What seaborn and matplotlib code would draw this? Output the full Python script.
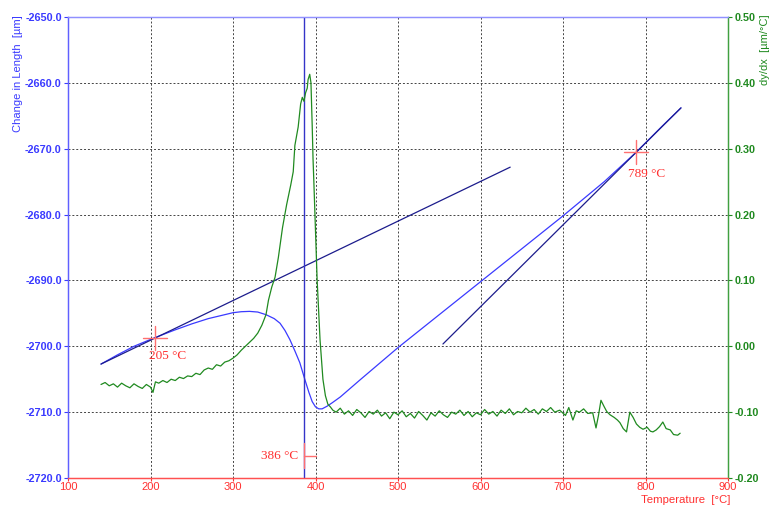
import numpy as np
import pandas as pd
import matplotlib
matplotlib.use('Agg')
import matplotlib.pyplot as plt
import seaborn as sns

# curva de dilatacion (Change in Length)
temp_dl = [140, 160, 180, 205, 230, 250, 270, 290, 300, 310, 320, 330, 340, 350, 357,
           363, 369, 375, 381, 387, 392, 396, 400, 404, 408, 414, 420, 430, 454, 500,
           550, 600, 650, 700, 750, 789, 820, 843]
dl = [-2702.7, -2701.3, -2700.0, -2698.7, -2697.5, -2696.6, -2695.8, -2695.2, -2694.9,
      -2694.75, -2694.7, -2694.8, -2695.2, -2695.8, -2696.5, -2697.6, -2699.0, -2700.7,
      -2702.5, -2705.0, -2707.0, -2708.4, -2709.2, -2709.5, -2709.5, -2709.1, -2708.6,
      -2707.7, -2705.1, -2700.2, -2695.2, -2690.2, -2685.2, -2680.2, -2675.0, -2670.5,
      -2666.6, -2663.8]

# derivada dy/dx
temp_der = [140, 145, 150, 155, 160, 165, 170, 175, 180, 185, 190, 195, 200, 203, 206,
            210, 215, 220, 225, 230, 235, 240, 245, 250, 255, 260, 265, 270, 275, 280,
            285, 290, 295, 300, 305, 310, 315, 320, 325, 330, 335, 340, 343, 347, 351,
            355, 360, 365, 370, 373, 375, 379, 382, 384, 386, 388, 390, 391, 393, 394.5,
            396, 397, 398, 400, 402, 405.5, 409, 412, 415, 418, 421,
            425, 430, 435, 440, 445, 450, 455, 460, 465, 470, 475, 480, 485, 490, 495,
            500, 505, 510, 515, 520, 525, 530, 535, 540, 545, 550, 555, 560, 565, 570,
            575, 580, 585, 590, 595, 600, 605, 610, 615, 620, 625, 630, 635, 640, 645,
            650, 655, 660, 665, 670, 675, 680, 685, 690, 696, 703, 707, 712, 716, 720,
            725, 730, 736, 740, 743, 746, 750, 753, 757, 762, 766, 769, 773, 777, 781,
            785, 789, 793, 797, 802, 806, 809, 813, 817, 821, 825, 830, 834, 839, 842]
deriv = [-0.058, -0.055, -0.060, -0.057, -0.062, -0.056, -0.060, -0.063, -0.057, -0.061,
         -0.064, -0.058, -0.062, -0.070, -0.054, -0.056, -0.052, -0.055, -0.050, -0.052,
         -0.047, -0.049, -0.045, -0.046, -0.041, -0.043, -0.036, -0.033, -0.035, -0.028,
         -0.030, -0.024, -0.022, -0.018, -0.013, -0.006, 0.000, 0.006, 0.012, 0.020,
         0.032, 0.048, 0.070, 0.090, 0.105, 0.135, 0.180, 0.215, 0.245, 0.265, 0.305,
         0.333, 0.368, 0.378, 0.372, 0.385, 0.392, 0.405, 0.413, 0.400, 0.335, 0.285,
         0.250, 0.175, 0.100, 0.010, -0.050, -0.075, -0.088, -0.092, -0.097,
         -0.100, -0.094, -0.103, -0.098, -0.105, -0.096, -0.101, -0.108, -0.099, -0.103,
         -0.097, -0.106, -0.101, -0.110, -0.100, -0.104, -0.098, -0.107, -0.102, -0.109,
         -0.099, -0.105, -0.112, -0.101, -0.106, -0.098, -0.104, -0.108, -0.100, -0.103,
         -0.097, -0.105, -0.099, -0.107, -0.101, -0.104, -0.096, -0.103, -0.099, -0.106,
         -0.097, -0.102, -0.095, -0.104, -0.099, -0.101, -0.094, -0.100, -0.096, -0.103,
         -0.095, -0.099, -0.093, -0.100, -0.097, -0.105, -0.093, -0.112, -0.098, -0.100,
         -0.095, -0.102, -0.101, -0.124, -0.105, -0.082, -0.092, -0.099, -0.104, -0.108,
         -0.112, -0.116, -0.125, -0.130, -0.100, -0.108, -0.118, -0.123, -0.126, -0.123,
         -0.129, -0.130, -0.127, -0.122, -0.115, -0.125, -0.127, -0.134, -0.135, -0.132]

# tangentes
tan1_t = [140, 636]
tan1_v = [-2702.7, -2672.8]
tan2_t = [554.5, 843]
tan2_v = [-2699.65, -2663.8]

# puntos marcados
onset_t, onset_v = 205, -2698.7
peak_t = 386
end_t, end_v = 789, -2670.5

x_ticks = [100, 200, 300, 400, 500, 600, 700, 800, 900]
y_ticks = [-2720, -2710, -2700, -2690, -2680, -2670, -2660, -2650]
y2_ticks = [-0.2, -0.1, 0.0, 0.1, 0.2, 0.3, 0.4, 0.5]

sns.set_style('white')
plt.rcParams['font.family'] = ['Liberation Sans', 'DejaVu Sans']

azul = '#3a3aff'
azul_osc = '#1c1c8c'
verde = '#208a20'
rojo = '#ff3030'

fig = plt.figure(figsize=(7.72, 5.05), dpi=100)
ax = fig.add_axes([68/772, 27/505, 660/772, 461/505])
ax2 = ax.twinx()

df_dl = pd.DataFrame({'T': temp_dl, 'v': dl})
df_der = pd.DataFrame({'T': temp_der, 'd': deriv})

sns.lineplot(data=df_der, x='T', y='d', ax=ax2, color=verde, linewidth=0.9, sort=False)
sns.lineplot(data=df_dl, x='T', y='v', ax=ax, color=azul, linewidth=0.9, sort=False)
sns.lineplot(x=tan1_t, y=tan1_v, ax=ax, color=azul_osc, linewidth=0.9)
sns.lineplot(x=tan2_t, y=tan2_v, ax=ax, color=azul_osc, linewidth=0.9)
ax.axvline(peak_t, color='#3434c8', linewidth=1.0, zorder=3)

# cruces rojas
dx, dy = 14.5, 1.8
cruz = '#ff7070'
for t, v in [(onset_t, onset_v), (end_t, end_v)]:
    ax.plot([t - dx, t + dx], [v, v], color=cruz, linewidth=1.0, zorder=5)
    ax.plot([t, t], [v - dy, v + dy], color=cruz, linewidth=1.0, zorder=5)
ax.plot([peak_t, peak_t], [-2714.7, -2718.5], color=cruz, linewidth=1.0, zorder=5)
ax.plot([peak_t, peak_t + 14], [-2716.7, -2716.7], color=cruz, linewidth=1.0, zorder=5)

serif = ['Liberation Serif', 'DejaVu Serif']
ax.text(onset_t - 7, onset_v - 1.8, f'{onset_t} °C', color=rojo, fontsize=9.5,
        family=serif, ha='left', va='top', zorder=6)
ax.text(peak_t - 7, -2716.7, f'{peak_t} °C', color=rojo, fontsize=9.5,
        family=serif, ha='right', va='center', zorder=6)
ax.text(end_t - 10, end_v - 2.4, f'{end_t} °C', color=rojo, fontsize=9.5,
        family=serif, ha='left', va='top', zorder=6)

ax.set_xlim(100, 900)
ax.set_ylim(-2720, -2650)
ax2.set_ylim(-0.2, 0.5)
ax.set_xticks(x_ticks)
ax.set_yticks(y_ticks)
ax2.set_yticks(y2_ticks)
ax.set_yticklabels([f'{v:.1f}' for v in y_ticks])
ax2.set_yticklabels([f'{v:.2f}' for v in y2_ticks])
ax.set_xticklabels([str(v) for v in x_ticks])
ax.set_xlabel('')
ax.set_ylabel('')
ax2.set_ylabel('')

ax.grid(True, color='#444444', linestyle=(0, (2, 2)), linewidth=0.7)

ax.tick_params(axis='y', colors=azul, labelsize=7.8, length=3, width=0.8, direction='out', left=True, pad=1.5)
ax.tick_params(axis='x', colors=rojo, labelsize=8, length=2, width=0.8, direction='out', bottom=True, pad=1)
ax2.tick_params(axis='y', colors=verde, labelsize=7.8, length=3, width=0.8, direction='out', right=True, pad=1.5)
for lab in ax.get_yticklabels():
    lab.set_fontweight('bold')
for lab in ax2.get_yticklabels():
    lab.set_fontweight('bold')

for a in (ax, ax2):
    a.spines['left'].set_color('#6060ff')
    a.spines['bottom'].set_color('#ff5050')
    a.spines['right'].set_color('#40a040')
    a.spines['top'].set_color('#9090ff')
    for s in a.spines.values():
        s.set_linewidth(0.9)

fig.text(18/772, 1 - 74/505, 'Change in Length  [µm]', rotation=90, color=azul,
         fontsize=8, ha='center', va='center')
fig.text(765/772, 1 - 50/505, 'dy/dx  [µm/°C]', rotation=90, color=verde,
         fontsize=8, ha='center', va='center')
fig.text(686/772, 0.2/505, 'Temperature  [°C]', color=rojo,
         fontsize=8.2, ha='center', va='bottom')

fig.savefig('out.png', dpi=100)
